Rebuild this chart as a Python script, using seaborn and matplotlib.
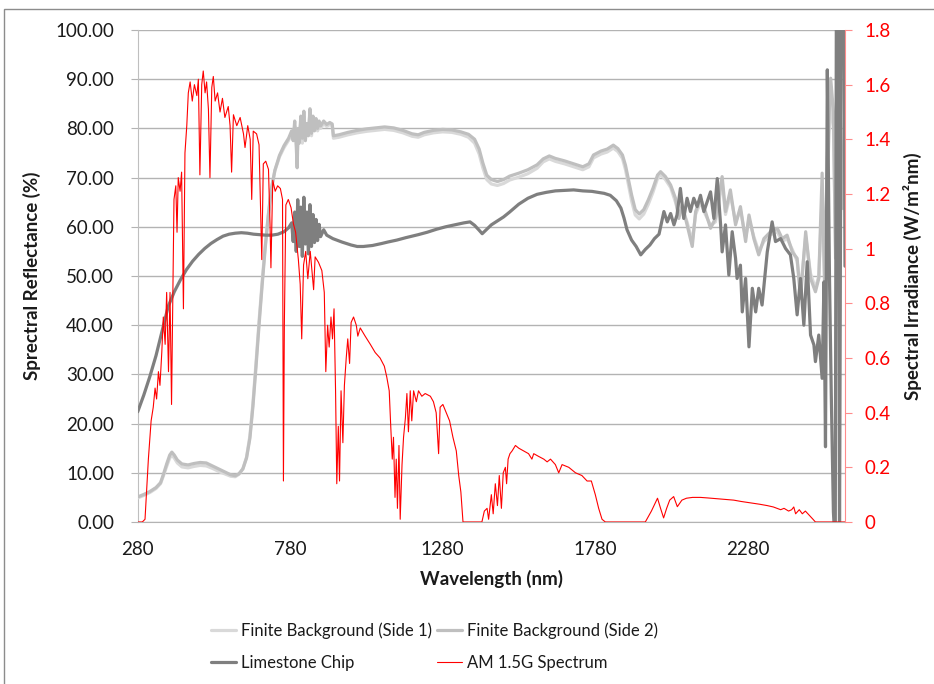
import matplotlib
matplotlib.use("Agg")
import matplotlib.pyplot as plt
import pandas as pd
import seaborn as sns
from matplotlib.patches import Rectangle
from matplotlib.lines import Line2D

# ---------------- data ----------------
# Limestone chip reflectance (%)
wl_lime = [280, 300, 320, 340, 360, 380, 400, 420, 440, 460, 480, 500, 520, 540, 560, 580,
           600, 620, 640, 660, 680, 700, 720, 740, 760, 775, 785, 790, 795, 800, 805, 810,
           815, 820, 825, 830, 835, 840, 845, 850, 855, 860, 865, 870, 875, 880, 890, 900,
           920, 950, 980, 1000, 1020, 1050, 1080, 1100, 1130, 1160, 1200, 1230, 1260, 1290,
           1320, 1350, 1370, 1385, 1400, 1410, 1425, 1440, 1460, 1480, 1500, 1530, 1560,
           1590, 1620, 1650, 1680, 1710, 1740, 1770, 1790, 1810, 1830, 1850, 1865, 1875,
           1885, 1900, 1915, 1930, 1945, 1960, 1975, 1990, 2006, 2017, 2028, 2039, 2049,
           2060, 2071, 2082, 2093, 2104, 2115, 2126, 2137, 2148, 2159, 2170, 2181, 2192,
           2197, 2208, 2219, 2230, 2241, 2246, 2257, 2263, 2274, 2285, 2296, 2307, 2317,
           2328, 2345, 2361, 2372, 2389, 2405, 2421, 2432, 2443, 2454, 2465, 2476, 2487,
           2498, 2503, 2514, 2525, 2531, 2536, 2542, 2549, 2555, 2562, 2568, 2572, 2578,
           2582, 2588, 2596, 2600]
refl_lime = [22.4, 25.8, 29.6, 33.8, 38.8, 43.8, 46.8, 49.2, 51.3, 53.0, 54.4, 55.6, 56.6,
             57.4, 58.1, 58.5, 58.7, 58.8, 58.7, 58.5, 58.4, 58.3, 58.3, 58.5, 59.0, 59.8,
             60.8, 57.0, 63.0, 55.0, 65.5, 56.0, 64.0, 54.0, 66.0, 56.5, 63.0, 54.5, 64.5,
             56.0, 62.5, 56.8, 61.5, 57.2, 60.5, 58.0, 59.4, 58.3, 57.6, 56.9, 56.3, 56.0,
             56.0, 56.2, 56.6, 56.9, 57.3, 57.8, 58.4, 58.9, 59.5, 60.0, 60.4, 60.8, 61.0,
             60.3, 59.3, 58.6, 59.5, 60.4, 61.2, 62.0, 63.0, 64.6, 65.8, 66.6, 67.0, 67.3,
             67.4, 67.5, 67.3, 67.2, 67.0, 66.8, 66.4, 65.3, 63.8, 61.8, 59.4, 57.3, 56.0,
             54.3, 55.4, 56.3, 57.6, 58.5, 63.1, 61.0, 62.7, 60.4, 62.4, 67.8, 61.7, 65.8,
             63.1, 65.8, 64.1, 66.4, 63.1, 65.1, 67.1, 61.7, 69.8, 60.4, 54.9, 60.4, 50.2,
             59.0, 53.6, 49.5, 52.2, 42.7, 49.5, 35.6, 47.5, 42.7, 47.5, 44.1, 54.9, 61.0,
             57.0, 57.6, 55.6, 54.3, 49.5, 42.1, 49.5, 40.0, 52.9, 38.0, 36.0, 32.6, 38.0,
             29.2, 48.8, 15.3, 91.9, 50.2, 25.8, 2.0, -5.0, 115.0, 115.0, -5.0, 115.0,
             115.0, 52.0]

# Finite background reflectance (%), sides 1 and 2
wl_bg = [280, 300, 320, 340, 355, 365, 375, 385, 392, 400, 410, 425, 445, 465, 485, 505,
         525, 545, 565, 585, 600, 612, 625, 637, 648, 658, 668, 678, 688, 698, 708, 718,
         730, 745, 760, 775, 785, 790, 795, 800, 803, 806, 810, 815, 820, 825, 830, 835,
         840, 845, 850, 855, 860, 865, 870, 875, 880, 890, 900, 910, 918, 922, 940, 970,
         1000, 1030, 1060, 1090, 1120, 1150, 1180, 1200, 1220, 1250, 1280, 1310, 1340,
         1365, 1385, 1400, 1412, 1425, 1440, 1460, 1480, 1500, 1530, 1560, 1590, 1610,
         1630, 1650, 1680, 1710, 1740, 1760, 1775, 1800, 1820, 1840, 1855, 1870, 1880,
         1890, 1900, 1912, 1925, 1940, 1955, 1970, 1985, 1995, 2011, 2028, 2044, 2055,
         2066, 2082, 2099, 2110, 2126, 2142, 2159, 2175, 2197, 2208, 2224, 2241, 2257,
         2274, 2285, 2301, 2317, 2334, 2356, 2378, 2394, 2410, 2427, 2443, 2454, 2471,
         2487, 2503, 2514, 2525, 2533, 2542, 2553, 2562, 2569, 2577, 2586, 2594, 2600]
refl_side1 = [4.9, 5.4, 6.0, 6.8, 7.8, 9.5, 11.3, 13.0, 13.6, 13.0, 12.0, 11.2, 11.0, 11.3,
              11.5, 11.4, 10.9, 10.3, 9.8, 9.3, 9.2, 9.7, 10.8, 13.2, 17.5, 24.2, 32.3,
              40.8, 48.7, 56.0, 62.3, 67.6, 71.4, 74.2, 76.1, 77.6, 79.0, 78.5, 80.5, 77.5,
              74.0, 79.0, 78.0, 81.5, 77.0, 82.5, 78.5, 80.0, 79.5, 83.0, 78.5, 81.5, 80.0,
              81.0, 79.5, 80.5, 80.0, 81.0, 80.4, 80.8, 80.5, 78.0, 78.2, 78.7, 79.1, 79.4,
              79.6, 79.8, 79.6, 79.1, 78.4, 78.2, 78.7, 79.1, 79.3, 79.2, 78.8, 78.2, 77.0,
              74.8, 72.0, 69.6, 68.7, 68.4, 68.8, 69.5, 70.1, 70.8, 71.9, 73.2, 73.8, 73.3,
              72.8, 72.2, 71.6, 72.2, 74.0, 74.8, 75.2, 76.0, 75.3, 73.9, 71.6, 68.4, 65.3,
              62.4, 61.6, 62.6, 64.6, 67.0, 69.8, 70.6, 69.6, 68.0, 65.0, 62.5, 63.8, 61.0,
              57.0, 62.5, 65.0, 62.5, 60.3, 61.0, 69.0, 62.5, 66.5, 61.0, 63.4, 57.8, 61.6,
              58.0, 55.0, 57.0, 58.4, 59.0, 57.0, 57.6, 55.4, 53.0, 47.0, 58.0, 50.5, 47.5,
              50.0, 66.0, 50.0, 70.0, 86.0, 80.0, 56.0, 90.0, 78.0, 66.0, 72.0]
refl_side2 = [5.1, 5.6, 6.2, 7.0, 8.0, 9.8, 11.8, 13.6, 14.2, 13.6, 12.6, 11.8, 11.6, 11.9,
              12.1, 12.0, 11.4, 10.8, 10.2, 9.6, 9.4, 9.8, 10.8, 13.0, 17.0, 23.5, 31.5,
              40.0, 48.0, 55.5, 62.0, 67.5, 71.5, 74.5, 76.5, 78.0, 79.5, 77.5, 81.5, 76.5,
              72.0, 80.0, 77.0, 82.5, 78.0, 83.5, 77.5, 81.0, 78.5, 84.0, 79.0, 82.5, 79.5,
              82.0, 80.0, 81.5, 80.5, 81.5, 80.8, 81.2, 80.9, 78.5, 78.7, 79.2, 79.6, 79.9,
              80.1, 80.3, 80.1, 79.6, 78.9, 78.7, 79.2, 79.6, 79.8, 79.7, 79.3, 78.8, 77.8,
              75.8, 73.0, 70.5, 69.6, 69.2, 69.6, 70.3, 70.9, 71.6, 72.6, 73.8, 74.4, 73.9,
              73.4, 72.8, 72.2, 72.8, 74.6, 75.4, 75.8, 76.6, 75.9, 74.6, 72.5, 69.5, 66.5,
              63.5, 62.6, 63.5, 65.5, 67.8, 70.5, 71.2, 70.2, 68.5, 65.8, 61.7, 64.4, 60.4,
              56.0, 63.1, 65.8, 63.1, 59.7, 61.7, 70.2, 63.1, 67.5, 60.4, 64.1, 57.0, 62.4,
              57.6, 54.3, 57.6, 59.0, 59.7, 57.6, 58.3, 54.9, 53.6, 45.4, 59.0, 49.5, 46.8,
              49.5, 70.9, 48.2, 73.9, 90.2, 83.4, 53.6, 94.2, 80.7, 63.7, 70.0]

# AM 1.5G solar spectral irradiance (W/m^2/nm)
wl_am = [280, 295, 304, 315, 324, 331, 337, 342, 348, 353, 359, 364, 370, 375, 381, 386,
         391, 395, 399, 405, 409, 413, 419, 424, 430, 435, 441, 446, 452, 459, 466, 474,
         479, 484, 490, 495, 501, 506, 512, 517, 523, 528, 534, 542, 550, 558, 566, 577,
         583, 588, 594, 605, 616, 627, 632, 641, 649, 654, 659, 670, 678, 687, 692, 700,
         709, 714, 717, 723, 731, 739, 748, 755, 758, 761, 766, 774, 783, 791, 798, 807,
         813, 818, 824, 831, 838, 846, 857, 862, 873, 884, 892, 897, 903, 908, 914, 919,
         924, 929, 933, 938, 942, 947, 953, 958, 964, 969, 975, 980, 988, 997, 1002, 1010,
         1026, 1043, 1059, 1075, 1089, 1097, 1105, 1110, 1115, 1119, 1124, 1128, 1132,
         1137, 1141, 1147, 1152, 1158, 1163, 1168, 1174, 1179, 1185, 1194, 1201, 1212,
         1223, 1240, 1250, 1259, 1267, 1272, 1281, 1292, 1303, 1314, 1325, 1333, 1340,
         1347, 1409, 1417, 1426, 1431, 1440, 1446, 1453, 1460, 1466, 1473, 1479, 1486,
         1490, 1495, 1501, 1508, 1519, 1530, 1546, 1562, 1573, 1579, 1595, 1612, 1623,
         1634, 1650, 1661, 1672, 1694, 1716, 1737, 1754, 1768, 1781, 1792, 1803, 1814,
         1945, 1965, 1985, 1995, 2005, 2015, 2025, 2038, 2050, 2065, 2080, 2100, 2126,
         2150, 2181, 2210, 2235, 2260, 2290, 2320, 2345, 2365, 2389, 2400, 2415, 2425,
         2432, 2438, 2450, 2460, 2470, 2487, 2495, 2503, 2600]
irr_am = [0.0, 0.0, 0.01, 0.23, 0.37, 0.42, 0.49, 0.45, 0.55, 0.50, 0.62, 0.75, 0.65, 0.84,
          0.55, 0.84, 0.43, 0.82, 1.18, 1.23, 1.06, 1.26, 1.21, 1.28, 0.78, 1.35, 1.45,
          1.57, 1.61, 1.54, 1.60, 1.56, 1.62, 1.27, 1.60, 1.65, 1.57, 1.61, 1.51, 1.26,
          1.59, 1.63, 1.54, 1.57, 1.50, 1.55, 1.48, 1.52, 1.45, 1.28, 1.49, 1.45, 1.48,
          1.42, 1.37, 1.45, 1.40, 1.18, 1.43, 1.42, 1.38, 0.96, 1.31, 1.32, 1.29, 1.09,
          0.93, 1.25, 1.21, 1.23, 1.22, 1.18, 0.15, 0.72, 1.16, 1.18, 1.15, 1.09, 1.06,
          0.96, 0.87, 0.67, 0.94, 0.99, 0.89, 0.99, 0.85, 0.97, 0.95, 0.92, 0.84, 0.55,
          0.72, 0.64, 0.75, 0.67, 0.78, 0.48, 0.14, 0.35, 0.15, 0.48, 0.29, 0.50, 0.60,
          0.67, 0.58, 0.73, 0.75, 0.72, 0.68, 0.71, 0.68, 0.65, 0.62, 0.60, 0.57, 0.53,
          0.48, 0.35, 0.23, 0.31, 0.09, 0.23, 0.05, 0.28, 0.01, 0.21, 0.31, 0.38, 0.47,
          0.33, 0.48, 0.37, 0.48, 0.44, 0.48, 0.46, 0.47, 0.46, 0.44, 0.40, 0.25, 0.42,
          0.43, 0.40, 0.37, 0.31, 0.26, 0.17, 0.11, 0.0, 0.0, 0.04, 0.05, 0.01, 0.10, 0.03,
          0.14, 0.06, 0.17, 0.05, 0.18, 0.20, 0.14, 0.23, 0.25, 0.26, 0.28, 0.27, 0.26,
          0.25, 0.23, 0.25, 0.24, 0.23, 0.22, 0.23, 0.21, 0.18, 0.21, 0.20, 0.18, 0.17,
          0.15, 0.15, 0.10, 0.05, 0.01, 0.0, 0.0, 0.04, 0.087, 0.05, 0.015, 0.05, 0.08,
          0.093, 0.056, 0.08, 0.087, 0.09, 0.09, 0.088, 0.085, 0.082, 0.08, 0.075, 0.07,
          0.065, 0.06, 0.055, 0.045, 0.05, 0.04, 0.045, 0.055, 0.03, 0.045, 0.03, 0.04,
          0.02, 0.01, 0.0, 0.0]

x_ticks = [280, 780, 1280, 1780, 2280]
y_ticks = [0, 10, 20, 30, 40, 50, 60, 70, 80, 90, 100]
irr_ticks = [0, 0.2, 0.4, 0.6, 0.8, 1.0, 1.2, 1.4, 1.6, 1.8]

labels = ["Finite Background (Side 1)", "Finite Background (Side 2)",
          "Limestone Chip", "AM 1.5G Spectrum"]

# ---------------- style ----------------
sns.set_style("white")
plt.rcParams["font.family"] = ["Lato", "DejaVu Sans"]
plt.rcParams["font.size"] = 13.5
TXT = "#1a1a1a"
GRID = "#b3b3b3"

c_side1, c_side2, c_lime, c_am = "#d9d9d9", "#bfbfbf", "#7f7f7f", "#ff0000"

W, H = 934, 684
fig = plt.figure(figsize=(W / 100, H / 100), dpi=100)
x0, x1, y0, y1 = 137.7, 845.0, 30.0, 522.0
ax = fig.add_axes([x0 / W, 1 - y1 / H, (x1 - x0) / W, (y1 - y0) / H])

df_s1 = pd.DataFrame({"wl": wl_bg, "r": refl_side1})
df_s2 = pd.DataFrame({"wl": wl_bg, "r": refl_side2})
df_lime = pd.DataFrame({"wl": wl_lime, "r": refl_lime})
df_am = pd.DataFrame({"wl": wl_am, "e": irr_am})

sns.lineplot(data=df_s1, x="wl", y="r", ax=ax, color=c_side1, lw=2.3,
             estimator=None, sort=False, zorder=3)
sns.lineplot(data=df_s2, x="wl", y="r", ax=ax, color=c_side2, lw=2.3,
             estimator=None, sort=False, zorder=4)
sns.lineplot(data=df_lime, x="wl", y="r", ax=ax, color=c_lime, lw=2.3,
             estimator=None, sort=False, zorder=5)

ax.set_xlim(280, 2600)
ax.set_ylim(0, 100)
ax.set_xticks(x_ticks)
ax.set_xticklabels([str(t) for t in x_ticks])
ax.set_yticks(y_ticks)
ax.set_yticklabels([f"{t:.2f}" for t in y_ticks])
ax.yaxis.grid(True, color=GRID, lw=1.0, zorder=0)
ax.xaxis.grid(False)
ax.set_axisbelow(True)
for s in ["top", "right"]:
    ax.spines[s].set_visible(False)
ax.spines["left"].set_color("#bfbfbf")
ax.spines["bottom"].set_color(GRID)
ax.tick_params(axis="both", direction="out", length=5, width=0.8, color=GRID,
               labelcolor=TXT, labelsize=13.5)
ax.tick_params(axis="y", pad=12)
ax.tick_params(axis="x", pad=9)
ax.set_xlabel("Wavelength (nm)", fontweight="bold", color=TXT, fontsize=13.5, labelpad=8)
ax.set_ylabel("Sprectral Reflectance (%)", fontweight="bold", color=TXT, fontsize=13.5,
              labelpad=10)

ax2 = ax.twinx()
sns.lineplot(data=df_am, x="wl", y="e", ax=ax2, color=c_am, lw=0.8,
             estimator=None, sort=False, zorder=6)
ax2.set_ylim(0, 1.8)
ax2.set_yticks(irr_ticks)
ax2.set_yticklabels([f"{t:g}" for t in irr_ticks])
for s in ["top", "left", "bottom"]:
    ax2.spines[s].set_visible(False)
ax2.spines["right"].set_color("#ff8c8c")
ax2.tick_params(axis="y", direction="out", length=5, width=0.8, color="#ff8c8c",
                labelcolor="#ff0000", labelsize=13.5, pad=9)
ax2.set_ylabel("Spectral Irradiance (W/m²nm)", fontweight="bold", color=TXT,
               fontsize=13.5, labelpad=9)
ax2.grid(False)

# legend laid out row by row: (Side 1, Side 2) then (Limestone, AM 1.5G)
h_side1 = Line2D([], [], color=c_side1, lw=2.3)
h_side2 = Line2D([], [], color=c_side2, lw=2.3)
h_lime = Line2D([], [], color=c_lime, lw=2.3)
h_am = Line2D([], [], color=c_am, lw=0.8)
leg = fig.legend([h_side1, h_lime, h_side2, h_am],
                 [labels[0], labels[2], labels[1], labels[3]],
                 loc="upper left", bbox_to_anchor=(211 / W, 1 - 622 / H),
                 ncol=2, frameon=False, fontsize=12.0, handlelength=1.5,
                 handletextpad=0.3, columnspacing=0.3, labelspacing=1.0, borderpad=0,
                 borderaxespad=0)
for t in leg.get_texts():
    t.set_color(TXT)

# chart frame
fig.add_artist(Rectangle((4 / W, -0.5), 2.0, 0.5 + (1 - 9 / H), transform=fig.transFigure,
                         fill=False, ec="#8c8c8c", lw=1.0))

fig.savefig("out.png", dpi=100, facecolor="white")
